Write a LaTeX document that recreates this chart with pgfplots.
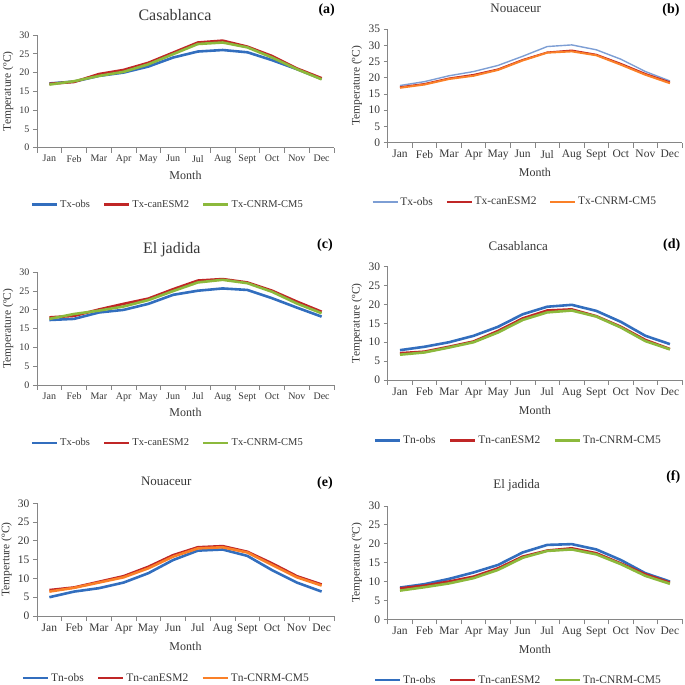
\documentclass[border=0pt]{standalone}
\usepackage{pgfplots}
\pgfplotsset{compat=1.18}
\usepackage{pgfplotstable}
\usepackage{fontspec}
\setmainfont{Liberation Serif}

\definecolor{obsblue}{RGB}{50,110,190}
\definecolor{lightblue}{RGB}{125,158,212}
\definecolor{canred}{RGB}{192,38,38}
\definecolor{cnrmgreen}{RGB}{140,185,60}
\definecolor{cnrmorange}{RGB}{250,128,40}
\definecolor{axgray}{RGB}{134,134,134}
\definecolor{txtgray}{RGB}{55,55,55}

\pgfplotstableread{
m obs can cnrm
0 17.1 17.0 16.8
1 17.6 17.5 17.7
2 19.1 19.6 19.1
3 20.0 20.7 20.2
4 21.6 22.6 22.2
5 24.0 25.3 24.9
6 25.6 28.0 27.6
7 26.0 28.5 28.0
8 25.4 26.9 26.7
9 23.3 24.4 24.0
10 20.9 21.1 20.9
11 18.3 18.5 18.2
}\tabA
\pgfplotstableread{
m obs can cnrm
0 17.6 17.1 16.9
1 18.8 18.1 17.9
2 20.6 19.8 19.6
3 21.9 20.9 20.6
4 23.8 22.6 22.4
5 26.6 25.5 25.3
6 29.6 27.8 27.7
7 30.1 28.4 28.1
8 28.6 27.1 26.9
9 25.7 24.3 24.0
10 21.9 21.2 20.9
11 19.0 18.6 18.3
}\tabB
\pgfplotstableread{
m obs can cnrm
0 17.3 18.0 17.6
1 17.6 18.4 18.9
2 19.3 20.1 19.8
3 20.0 21.6 20.9
4 21.6 23.0 22.6
5 24.0 25.5 25.0
6 25.1 27.8 27.3
7 25.7 28.2 28.0
8 25.3 27.3 27.1
9 23.1 25.1 24.8
10 20.6 22.2 21.7
11 18.2 19.5 19.1
}\tabC
\pgfplotstableread{
m obs can cnrm
0 7.9 7.1 6.7
1 8.8 7.5 7.3
2 10.0 8.8 8.6
3 11.7 10.2 10.0
4 14.1 13.0 12.6
5 17.4 16.3 15.9
6 19.4 18.4 17.9
7 19.9 18.7 18.4
8 18.3 16.9 16.8
9 15.4 14.1 13.9
10 11.7 10.6 10.3
11 9.5 8.2 8.1
}\tabD
\pgfplotstableread{
m obs can cnrm
0 5.0 6.9 6.5
1 6.5 7.6 7.5
2 7.4 9.1 8.9
3 8.9 10.6 10.3
4 11.4 13.1 12.7
5 14.9 16.2 15.8
6 17.4 18.3 18.0
7 17.7 18.6 18.3
8 16.0 17.1 16.9
9 12.2 14.0 13.6
10 8.9 10.6 10.3
11 6.5 8.4 8.1
}\tabE
\pgfplotstableread{
m obs can cnrm
0 8.4 8.2 7.6
1 9.3 8.9 8.5
2 10.7 10.0 9.5
3 12.4 11.3 10.9
4 14.4 13.5 13.1
5 17.7 16.6 16.3
6 19.7 18.2 18.1
7 19.9 18.8 18.5
8 18.5 17.5 17.2
9 15.7 14.8 14.6
10 12.2 11.9 11.5
11 10.0 9.7 9.4
}\tabF

\newcommand{\fs}[1]{\fontsize{#1}{#1}\selectfont}

\pgfplotsset{
  panel/.style={
    scale only axis, anchor=south west,
    xmin=-0.5, xmax=11.5, ymin=0,
    axis lines=left, axis line style={-, draw=axgray, line width=0.8pt},
    xtick={0,...,11},
    xticklabels={Jan,Feb,Mar,Apr,May,Jun,Jul,Aug,Sept,Oct,Nov,Dec},
    major x tick style={draw=none},
    minor xtick={-0.5,0.5,...,11.5},
    minor x tick style={draw=axgray, line width=0.8pt},
    minor tick length=5pt, major tick length=4pt,
    y tick style={draw=axgray, line width=0.8pt},
    tick align=outside,
    ytick distance=5,
    /pgf/number format/assume math mode=true,
    ticklabel style={text=txtgray},
    label style={text=txtgray},
    every axis plot/.append style={no marks, line join=round, line width=2.6pt},
    legend style={draw=none, fill=none, legend columns=3, text=txtgray,
      /tikz/every even column/.append style={column sep=11pt}},
    legend image code/.code={\draw[#1, line width=2.6pt] (0pt,0pt) -- (25pt,0pt);},
  },
  smallfont/.style={
    ticklabel style={font=\fs{10}},
    label style={font=\fs{11.5}},
    xlabel style={font=\fs{12}},
    legend style={font=\fs{10.5}},
  },
  bigfont/.style={
    ticklabel style={font=\fs{11.5}},
    label style={font=\fs{11.5}},
    xlabel style={font=\fs{12}},
    legend style={font=\fs{11.5}},
  },
}

\begin{document}
\begin{tikzpicture}
\useasboundingbox (0pt,0pt) rectangle (685pt,685pt);

% (a)
\begin{axis}[panel, smallfont, at={(37pt,537.3pt)}, width=297pt, height=112.7pt, ymax=30,
  xlabel={Month}, ylabel={Temperature (ºC)},
  xlabel style={at={(axis description cs:0.5,-0.242)}, anchor=center},
  ylabel style={at={(axis description cs:-0.097,0.5)}, anchor=center},
  legend style={at={(axis description cs:0.44,-0.506)}, anchor=center}]
\addplot[obsblue] table[x=m,y=obs]{\tabA};
\addplot[canred] table[x=m,y=can]{\tabA};
\addplot[cnrmgreen] table[x=m,y=cnrm]{\tabA};
\legend{Tx-obs,Tx-canESM2,Tx-CNRM-CM5}
\end{axis}

% (b)
\begin{axis}[panel, bigfont, at={(387.7pt,542.3pt)}, width=294.5pt, height=113.7pt, ymax=35,
  xlabel={Month}, ylabel={Temperature (ºC)},
  xlabel style={at={(axis description cs:0.5,-0.258)}, anchor=center},
  ylabel style={at={(axis description cs:-0.105,0.5)}, anchor=center},
  legend style={at={(axis description cs:0.432,-0.52)}, anchor=center},
  every axis plot/.append style={line width=1.6pt},
  legend image code/.code={\draw[#1, line width=1.6pt] (0pt,0pt) -- (25pt,0pt);}]
\addplot[lightblue, line width=1.4pt] table[x=m,y=obs]{\tabB};
\addplot[canred, line width=1.8pt] table[x=m,y=can]{\tabB};
\addplot[cnrmorange, line width=2pt] table[x=m,y=cnrm]{\tabB};
\legend{Tx-obs,Tx-canESM2,Tx-CNRM-CM5}
\end{axis}

% (c)
\begin{axis}[panel, smallfont, at={(37pt,300pt)}, width=297pt, height=112.7pt, ymax=30,
  xlabel={Month}, ylabel={Temperature (ºC)},
  xlabel style={at={(axis description cs:0.5,-0.246)}, anchor=center},
  ylabel style={at={(axis description cs:-0.097,0.5)}, anchor=center},
  legend style={at={(axis description cs:0.44,-0.515)}, anchor=center}]
\addplot[obsblue] table[x=m,y=obs]{\tabC};
\addplot[canred] table[x=m,y=can]{\tabC};
\addplot[cnrmgreen] table[x=m,y=cnrm]{\tabC};
\legend{Tx-obs,Tx-canESM2,Tx-CNRM-CM5}
\end{axis}

% (d)
\begin{axis}[panel, bigfont, at={(387.7pt,305pt)}, width=294.5pt, height=113.3pt, ymax=30,
  xlabel={Month}, ylabel={Temperature (ºC)},
  xlabel style={at={(axis description cs:0.5,-0.265)}, anchor=center},
  ylabel style={at={(axis description cs:-0.105,0.5)}, anchor=center},
  legend style={at={(axis description cs:0.443,-0.535)}, anchor=center}]
\addplot[obsblue] table[x=m,y=obs]{\tabD};
\addplot[canred] table[x=m,y=can]{\tabD};
\addplot[cnrmgreen] table[x=m,y=cnrm]{\tabD};
\legend{Tn-obs,Tn-canESM2,Tn-CNRM-CM5}
\end{axis}

% (e)
\begin{axis}[panel, bigfont, at={(37pt,69pt)}, width=297pt, height=112.7pt, ymax=30,
  xlabel={Month}, ylabel={Temperture (ºC)},
  xlabel style={at={(axis description cs:0.5,-0.272)}, anchor=center},
  ylabel style={at={(axis description cs:-0.102,0.5)}, anchor=center},
  legend style={at={(axis description cs:0.435,-0.55)}, anchor=center}]
\addplot[obsblue] table[x=m,y=obs]{\tabE};
\addplot[canred] table[x=m,y=can]{\tabE};
\addplot[cnrmorange] table[x=m,y=cnrm]{\tabE};
\legend{Tn-obs,Tn-canESM2,Tn-CNRM-CM5}
\end{axis}

% (f)
\begin{axis}[panel, bigfont, at={(387.7pt,65.7pt)}, width=294.5pt, height=113.3pt, ymax=30,
  xlabel={Month}, ylabel={Temperature (ºC)},
  xlabel style={at={(axis description cs:0.5,-0.262)}, anchor=center},
  ylabel style={at={(axis description cs:-0.105,0.5)}, anchor=center},
  legend style={at={(axis description cs:0.443,-0.536)}, anchor=center}]
\addplot[obsblue] table[x=m,y=obs]{\tabF};
\addplot[canred] table[x=m,y=can]{\tabF};
\addplot[cnrmgreen] table[x=m,y=cnrm]{\tabF};
\legend{Tn-obs,Tn-canESM2,Tn-CNRM-CM5}
\end{axis}

% titles
\node[font=\fs{16}, text=txtgray] at (175pt,670pt) {Casablanca};
\node[font=\fs{13}, text=txtgray] at (515.7pt,676.7pt) {Nouaceur};
\node[font=\fs{16}, text=txtgray] at (171.7pt,435pt) {El jadida};
\node[font=\fs{13}, text=txtgray] at (518.3pt,439pt) {Casablanca};
\node[font=\fs{13}, text=txtgray] at (166.3pt,203.3pt) {Nouaceur};
\node[font=\fs{13}, text=txtgray] at (516.7pt,200pt) {El jadida};
% panel labels
\node[font=\fs{14}\bfseries] at (326.7pt,675pt) {(a)};
\node[font=\fs{14}\bfseries] at (671pt,675pt) {(b)};
\node[font=\fs{14}\bfseries] at (325pt,440pt) {(c)};
\node[font=\fs{14}\bfseries] at (671.7pt,440pt) {(d)};
\node[font=\fs{14}\bfseries] at (325pt,202.3pt) {(e)};
\node[font=\fs{14}\bfseries] at (673.3pt,208.3pt) {(f)};
\end{tikzpicture}
\end{document}
